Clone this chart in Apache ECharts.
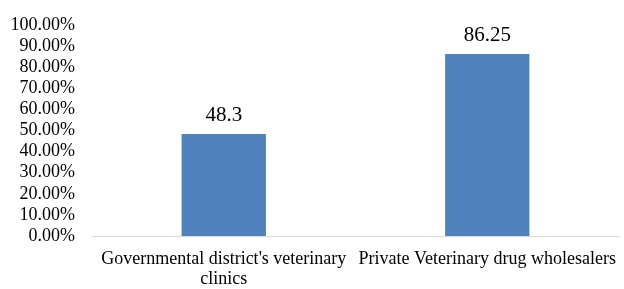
<!DOCTYPE html>
<html>
<head>
<meta charset="utf-8">
<script src="https://cdn.jsdelivr.net/npm/echarts@6/dist/echarts.min.js"></script>
<style>
  html, body { margin: 0; padding: 0; background: #fff; }
  #chart { width: 624px; height: 289px; }
</style>
</head>
<body>
<div id="chart"></div>
<script>
const categories = ["Governmental district's veterinary\nclinics", "Private Veterinary drug wholesalers"];
const values = [48.3, 86.25];
const yMax = 100;
const yStep = 10;

const FONT = "'Times New Roman', 'Liberation Serif', serif";

const chart = echarts.init(document.getElementById('chart'));

chart.setOption({
    animation: false,
    grid: { left: 92, right: 5, top: 25, bottom: 51 },
    xAxis: {
        type: 'category',
        data: categories,
        axisLine: { lineStyle: { color: '#d9d9d9', width: 1 } },
        axisTick: { show: false },
        axisLabel: {
            color: '#000',
            fontFamily: FONT,
            fontSize: 18,
            lineHeight: 20,
            margin: 13,
            interval: 0
        }
    },
    yAxis: {
        type: 'value',
        min: 0,
        max: yMax,
        interval: yStep,
        splitLine: { show: false },
        axisLine: { show: false },
        axisTick: { show: false },
        axisLabel: {
            color: '#000',
            fontFamily: FONT,
            fontSize: 18,
            margin: 17,
            formatter: v => v.toFixed(2) + '%'
        }
    },
    series: [{
        type: 'bar',
        data: values,
        barWidth: '32%',
        itemStyle: { color: '#4f81bd' },
        label: {
            show: true,
            position: 'top',
            distance: 8,
            color: '#000',
            fontFamily: FONT,
            fontSize: 21
        }
    }]
});
</script>
</body>
</html>
